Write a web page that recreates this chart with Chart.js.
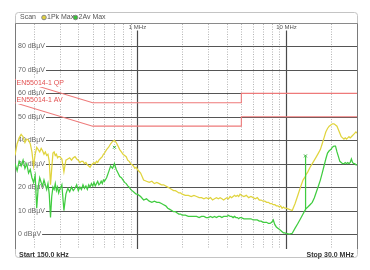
<!DOCTYPE html>
<html>
<head>
<meta charset="utf-8">
<script src="https://cdn.jsdelivr.net/npm/chart.js@4"></script>
<style>
  html, body { margin: 0; padding: 0; background: #fff; }
  canvas { display: block; }
</style>
</head>
<body>
<canvas id="scan" width="370" height="270"></canvas>
<script>
// Frequency grid of the scan, MHz
const freqMHz = [
  0.150, 0.155, 0.160, 0.165, 0.170, 0.175, 0.180, 0.185, 0.190, 0.195,
  0.200, 0.205, 0.210, 0.215, 0.220, 0.225, 0.230, 0.235, 0.240, 0.245,
  0.250, 0.255, 0.260, 0.265, 0.270, 0.275, 0.280, 0.285, 0.290, 0.295,
  0.30, 0.31, 0.32, 0.33, 0.34, 0.35, 0.36, 0.37, 0.38, 0.39,
  0.40, 0.41, 0.42, 0.43, 0.44, 0.45, 0.46, 0.47, 0.48, 0.49,
  0.50, 0.51, 0.52, 0.53, 0.54, 0.55, 0.56, 0.57, 0.58, 0.59,
  0.60, 0.62, 0.64, 0.66, 0.68, 0.70, 0.72, 0.74, 0.76, 0.78,
  0.80, 0.82, 0.84, 0.86, 0.88, 0.90, 0.92, 0.94, 0.96, 0.98,
  1.00, 1.05, 1.10, 1.15, 1.20, 1.25, 1.30, 1.35, 1.40, 1.45,
  1.50, 1.55, 1.60, 1.65, 1.70, 1.75, 1.80, 1.85, 1.90, 1.95,
  2.0, 2.1, 2.2, 2.3, 2.4, 2.5, 2.6, 2.7, 2.8, 2.9,
  3.0, 3.1, 3.2, 3.3, 3.4, 3.5, 3.6, 3.7, 3.8, 3.9,
  4.0, 4.1, 4.2, 4.3, 4.4, 4.5, 4.6, 4.7, 4.8, 4.9,
  5.0, 5.2, 5.4, 5.6, 5.8, 6.0, 6.2, 6.4, 6.6, 6.8,
  7.0, 7.2, 7.4, 7.6, 7.8, 8.0, 8.2, 8.4, 8.6, 8.8,
  9.0, 9.2, 9.4, 9.6, 9.8,
  10.0, 10.5, 11.0, 11.5, 12.0, 12.5, 13.0, 13.45, 13.5, 13.55, 14.0, 14.5,
  15.0, 15.5, 16.0, 16.5, 17.0, 17.5, 18.0, 18.5, 19.0, 19.5,
  20.0, 20.5, 21.0, 21.5, 22.0, 22.5, 23.0, 23.5, 24.0, 24.5,
  25.0, 25.5, 26.0, 26.5, 27.0, 27.5, 28.0, 28.5, 29.0, 29.5, 30.0
];

// Trace 1: peak max, dBµV
const pkMax = [
  33.5, 38.5, 41, 42.5, 41.5, 39, 40.5, 40, 38.5, 35,
  29, 34, 37, 36, 35, 36.5, 35.5, 34, 35, 33.5,
  34, 31, 21, 28, 34.5, 35, 33.5, 34, 32.5, 33,
  33, 32, 26.5, 31.5, 32, 32.5, 31.5, 32.5, 33, 32,
  31.5, 30.5, 31, 31, 30, 30.5, 29.5, 29, 28.5, 29.5,
  30, 30.5, 30, 31, 30.5, 31.5, 32, 32.5, 33, 34,
  34.5, 36, 37, 38.5, 39.5, 40, 39, 37.5, 36, 35,
  34, 33.5, 33, 31.5, 31, 30, 29.5, 29, 28, 28.5,
  27.5, 26, 23, 22.5, 22, 22.5, 21.5, 22, 21.5, 21,
  21, 20.5, 20, 19.5, 19, 18.5, 18.5, 18, 17.5, 17.5,
  17, 16.5, 16.5, 16, 16.5, 16, 15.5, 15.5, 15, 15.5,
  15, 15.5, 14.5, 15, 15.5, 15, 15.5, 15, 14.5, 15,
  15.5, 15, 16, 15.5, 16, 16.5, 16, 16.5, 16, 17,
  16.5, 16, 16.5, 15.5, 16, 15.5, 15, 15.5, 14.5, 14.5,
  14, 14, 13.5, 13.5, 13, 13, 12.5, 12.5, 12, 12,
  11.5, 12, 11, 11.5, 11,
  11, 10.5, 10, 13, 16.5, 20, 23, 24.5, 25, 25, 26.5, 28.5,
  30, 31.5, 33, 34.5, 36, 38.5, 41, 43.5, 45, 46,
  46.5, 47, 47, 46.5, 46, 44.5, 43, 41.5, 41, 40.5,
  41, 40.5, 41, 41.5, 41, 41.5, 42, 42.5, 43, 43.5, 43
];

// Trace 2: average max, dBµV
const avMax = [
  30, 27, 31, 29, 31.5, 28, 30, 26, 27.5, 24,
  22, 25, 11, 20, 24, 22, 20.5, 23, 21, 19,
  21.5, 17, 7, 16, 20, 19, 21.5, 18.5, 20, 17.5,
  19, 21, 10, 17, 19.5, 18, 20, 18.5, 19.5, 21,
  18.5, 20, 19, 21, 19.5, 20.5, 19, 21, 20, 21.5,
  20.5, 22, 20.5, 21.5, 22.5, 21, 21.5, 22.5, 21.5, 23,
  22.5, 24, 26.5, 29, 28, 30, 27.5, 26, 24.5, 24,
  23, 22, 21.5, 20.5, 20, 19, 18.5, 18, 17.5, 17,
  17, 16, 14.5, 15, 14, 13.5, 14, 13.5, 13.5, 13,
  12.5, 12, 11, 10.5, 10, 9.5, 9.5, 9, 8.5, 8.5,
  8, 8, 7.5, 7.5, 7.5, 7.5, 7, 7.5, 7.5, 7,
  7, 7.5, 7, 7.5, 7, 7.5, 7.5, 7, 7.5, 7.5,
  7.5, 8, 7.5, 7.5, 7, 7.5, 7, 7, 6.5, 7,
  7, 6.5, 6.5, 6.5, 6.5, 6, 6, 6, 5.5, 5.5,
  5, 5, 5, 4.5, 4.5, 5, 6, 4, 3, 2.5,
  2, 1.5, 1, 0.5, 0.5,
  0.3, 0, 0.3, 2.5, 4.5, 6.5, 8.5, 10.3, 33, 10.6, 11.5, 12.5,
  13.5, 15.5, 18, 20.5, 23, 26, 29, 32, 34.5, 35.5,
  36, 37, 37.5, 37.5, 35, 33, 31, 30.5, 30, 30,
  30.5, 30, 30.5, 30, 30.5, 32, 30.5, 30, 30, 29.5, 29.5
];

// EN55014-1 limit lines
const limitFreq = [0.15, 0.5, 5, 5, 30];
const limitQP = [66, 56, 56, 60, 60];
const limitAV = [56, 46, 46, 50, 50];

// markers
const markerFreq = [0.7, 13.5];
const markerLevel = [37, 33.3];

// grid
const levelTicks = [0, 10, 20, 30, 40, 50, 60, 70, 80];
const minorFreqs = [0.2, 0.3, 0.4, 0.5, 0.6, 0.7, 0.8, 0.9, 2, 3, 4, 5, 6, 7, 8, 9, 20];
const decadeFreqs = [1, 10];
const decadeLabels = ["1 MHz", "10 MHz"];

const toPoints = (xs, ys) => xs.map((x, i) => ({ x: x, y: ys[i] }));

const FONT = '"Liberation Sans", Arial, sans-serif';

const analyzerFrame = {
  id: 'analyzerFrame',
  beforeDraw(chart) {
    const ctx = chart.ctx;
    const area = chart.chartArea;
    ctx.save();
    ctx.fillStyle = '#fff';
    ctx.fillRect(0, 0, chart.width, chart.height);

    // outer box
    ctx.strokeStyle = '#c4c4c4';
    ctx.lineWidth = 1;
    ctx.beginPath();
    ctx.roundRect(15.5, 12.5, 342, 245, 3);
    ctx.stroke();

    // header
    ctx.strokeStyle = '#8a8a8a';
    ctx.beginPath();
    ctx.moveTo(15.5, 23.5);
    ctx.lineTo(357.5, 23.5);
    ctx.stroke();

    ctx.font = '7px ' + FONT;
    ctx.textBaseline = 'middle';
    ctx.fillStyle = '#555';
    ctx.fillText('Scan', 20, 17.5);
    ctx.fillStyle = '#e0d040';
    ctx.strokeStyle = '#888';
    ctx.beginPath();
    ctx.arc(44, 17.5, 2.3, 0, Math.PI * 2);
    ctx.fill();
    ctx.stroke();
    ctx.fillStyle = '#555';
    ctx.fillText('1Pk Max', 47, 17.5);
    ctx.fillStyle = '#38c038';
    ctx.beginPath();
    ctx.arc(75.5, 17.5, 2.3, 0, Math.PI * 2);
    ctx.fill();
    ctx.stroke();
    ctx.fillStyle = '#555';
    ctx.fillText('2Av Max', 78.5, 17.5);

    // footer
    ctx.font = 'bold 7px ' + FONT;
    ctx.fillStyle = '#333';
    ctx.textBaseline = 'alphabetic';
    ctx.fillText('Start 150.0 kHz', 19, 256.5);
    ctx.textAlign = 'right';
    ctx.fillText('Stop 30.0 MHz', 354, 256.5);

    // plot side borders
    ctx.strokeStyle = '#7a7a7a';
    ctx.beginPath();
    ctx.moveTo(15.5, 23.5);
    ctx.lineTo(15.5, area.bottom);
    ctx.moveTo(357.5, 23.5);
    ctx.lineTo(357.5, area.bottom);
    ctx.stroke();
    ctx.restore();
  },
  beforeDatasetsDraw(chart) {
    const ctx = chart.ctx;
    const area = chart.chartArea;
    const xs = chart.scales.x;
    const ys = chart.scales.y;
    ctx.save();

    // dotted minor frequency lines
    ctx.strokeStyle = '#b4b4b4';
    ctx.lineWidth = 1;
    ctx.setLineDash([1, 1.5]);
    minorFreqs.forEach((f) => {
      const px = Math.round(xs.getPixelForValue(f)) + 0.5;
      ctx.beginPath();
      ctx.moveTo(px, area.top + 1);
      ctx.lineTo(px, area.bottom);
      ctx.stroke();
    });
    ctx.setLineDash([]);

    // decade lines with labels
    ctx.font = '6px ' + FONT;
    ctx.textAlign = 'center';
    ctx.textBaseline = 'middle';
    decadeFreqs.forEach((f, i) => {
      const px = Math.round(xs.getPixelForValue(f)) + 0.5;
      ctx.strokeStyle = '#4a4a4a';
      ctx.lineWidth = 1.2;
      ctx.beginPath();
      ctx.moveTo(px, 30.5);
      ctx.lineTo(px, area.bottom);
      ctx.stroke();
      ctx.fillStyle = '#555';
      ctx.fillText(decadeLabels[i], px, 27);
    });

    // level lines with labels inside the plot
    ctx.font = '7px ' + FONT;
    ctx.textAlign = 'left';
    levelTicks.forEach((v) => {
      const py = Math.round(ys.getPixelForValue(v)) + 0.5;
      const label = v + ' dBµV';
      const w = ctx.measureText(label).width;
      ctx.fillStyle = '#666';
      ctx.fillText(label, 18, py);
      ctx.strokeStyle = '#555';
      ctx.lineWidth = 1.1;
      ctx.beginPath();
      ctx.moveTo(18 + w + 1, py);
      ctx.lineTo(area.right, py);
      ctx.stroke();
    });
    ctx.restore();
  },
  afterDatasetsDraw(chart) {
    const ctx = chart.ctx;
    ctx.save();
    ctx.font = '7px ' + FONT;
    ctx.textBaseline = 'middle';
    [['EN55014-1 QP', 83], ['EN55014-1 AV', 100]].forEach(([txt, y]) => {
      const w = ctx.measureText(txt).width;
      ctx.fillStyle = '#fff';
      ctx.fillRect(16, y - 4, w + 2, 8);
      ctx.fillStyle = '#e25050';
      ctx.fillText(txt, 16.5, y);
    });
    ctx.restore();
  }
};

new Chart(document.getElementById('scan'), {
  type: 'line',
  data: {
    datasets: [
      {
        label: 'EN55014-1 QP',
        data: toPoints(limitFreq, limitQP),
        borderColor: '#ee7a7a',
        borderWidth: 1.1
      },
      {
        label: 'EN55014-1 AV',
        data: toPoints(limitFreq, limitAV),
        borderColor: '#ee7a7a',
        borderWidth: 1.1
      },
      {
        label: '2Av Max',
        data: toPoints(freqMHz, avMax),
        borderColor: '#40cc40',
        borderWidth: 1.25
      },
      {
        label: '1Pk Max',
        data: toPoints(freqMHz, pkMax),
        borderColor: '#e0d43e',
        borderWidth: 1.25
      },
      {
        label: 'markers',
        data: toPoints(markerFreq, markerLevel),
        showLine: false,
        pointStyle: 'crossRot',
        pointRadius: 2,
        borderColor: '#2aa82a',
        borderWidth: 1
      }
    ]
  },
  options: {
    responsive: false,
    animation: false,
    devicePixelRatio: 1,
    layout: { padding: { left: 15, right: 13, top: 23, bottom: 21 } },
    elements: {
      point: { radius: 0 },
      line: { tension: 0 }
    },
    scales: {
      x: { type: 'logarithmic', min: 0.15, max: 30, display: false },
      y: { type: 'linear', min: -6.4, max: 90, display: false }
    },
    plugins: {
      legend: { display: false },
      tooltip: { enabled: false }
    }
  },
  plugins: [analyzerFrame]
});
</script>
</body>
</html>
